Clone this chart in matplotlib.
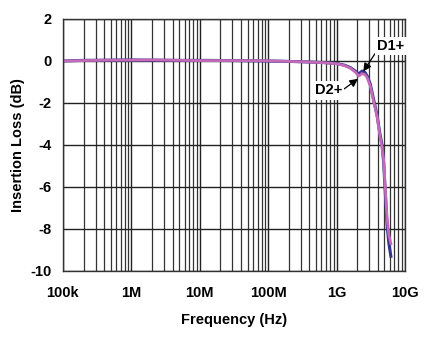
import matplotlib
matplotlib.use('Agg')
import matplotlib.pyplot as plt
from matplotlib.ticker import LogLocator, FixedLocator, NullFormatter

plt.rcParams['font.family'] = ['Liberation Sans', 'DejaVu Sans']
plt.rcParams['font.weight'] = 'bold'
plt.rcParams['axes.unicode_minus'] = False

# insertion loss of the two channels (Hz, dB)
freq = [1e5, 2e5, 5e5, 1e6, 2e6, 5e6, 1e7, 3e7, 1e8, 2e8, 4e8, 7e8,
        1e9, 1.3e9, 1.6e9, 1.9e9, 2.1e9, 2.35e9, 2.6e9, 2.8e9, 3.1e9,
        3.45e9, 3.9e9, 4.3e9, 4.6e9, 4.85e9, 5.1e9, 5.45e9, 5.8e9, 6.2e9]
d1 = [0.0, 0.03, 0.04, 0.05, 0.04, 0.03, 0.03, 0.02, 0.0, -0.02, -0.05, -0.08,
      -0.12, -0.2, -0.32, -0.5, -0.62, -0.48, -0.55, -0.72, -1.1,
      -1.8, -2.6, -3.5, -4.0, -4.8, -6.1, -7.8, -8.7, -9.3]
d2 = [0.0, 0.02, 0.04, 0.04, 0.05, 0.03, 0.02, 0.02, 0.01, -0.02, -0.05, -0.09,
      -0.13, -0.22, -0.35, -0.55, -0.72, -0.6, -0.65, -0.8, -1.2,
      -1.9, -2.65, -3.6, -4.1, -4.7, -5.9, -7.5, -8.3, -8.7]

x_ticks = [1e5, 1e6, 1e7, 1e8, 1e9, 1e10]
x_labels = ['100k', '1M', '10M', '100M', '1G', '10G']
y_ticks = [2, 0, -2, -4, -6, -8, -10]

fig = plt.figure(figsize=(4.37, 3.39), dpi=100)
ax = fig.add_axes([0.144, 0.2006, 0.783, 0.7434])

ax.plot(freq, d1, color='#33338f', lw=2.2, solid_joinstyle='round')
ax.plot(freq, d2, color='#c36bb8', lw=2.0, solid_joinstyle='round')

ax.set_xscale('log')
ax.set_xlim(1e5, 1e10)
ax.set_ylim(-10, 2)
ax.xaxis.set_major_locator(FixedLocator(x_ticks))
ax.set_xticklabels(x_labels)
ax.xaxis.set_minor_locator(LogLocator(base=10, subs=range(2, 10), numticks=20))
ax.xaxis.set_minor_formatter(NullFormatter())
ax.set_yticks(y_ticks)

ax.grid(which='major', color='#222222', lw=1.0)
ax.grid(which='minor', axis='x', color='#333333', lw=0.9)
ax.set_axisbelow(True)
for s in ax.spines.values():
    s.set_color('#333333')
    s.set_linewidth(1.0)
ax.tick_params(which='both', length=0, labelsize=10.5)
ax.tick_params(axis='x', pad=11)
ax.tick_params(axis='y', pad=8)

ax.set_xlabel('Frequency (Hz)', fontsize=10.5, fontweight='bold', labelpad=9)
ax.set_ylabel('Insertion Loss (dB)', fontsize=10.5, fontweight='bold', labelpad=4)

box = dict(boxstyle='square,pad=0.15', fc='white', ec='none')
arrow = dict(arrowstyle='-|>', color='black', lw=0.9, mutation_scale=12,
             shrinkA=0, shrinkB=0)
ax.annotate('D1+', xy=(2.45e9, -0.5), xytext=(3.9e9, 0.7), fontsize=10.5,
            fontweight='bold', ha='left', va='center', bbox=box,
            arrowprops=dict(arrow, relpos=(0, 0.2)))
ax.annotate('D2+', xy=(2.05e9, -0.85), xytext=(1.2e9, -1.4), fontsize=10.5,
            fontweight='bold', ha='right', va='center', bbox=box,
            arrowprops=dict(arrow, relpos=(1, 0.5)))

fig.savefig('out.png', dpi=100)
